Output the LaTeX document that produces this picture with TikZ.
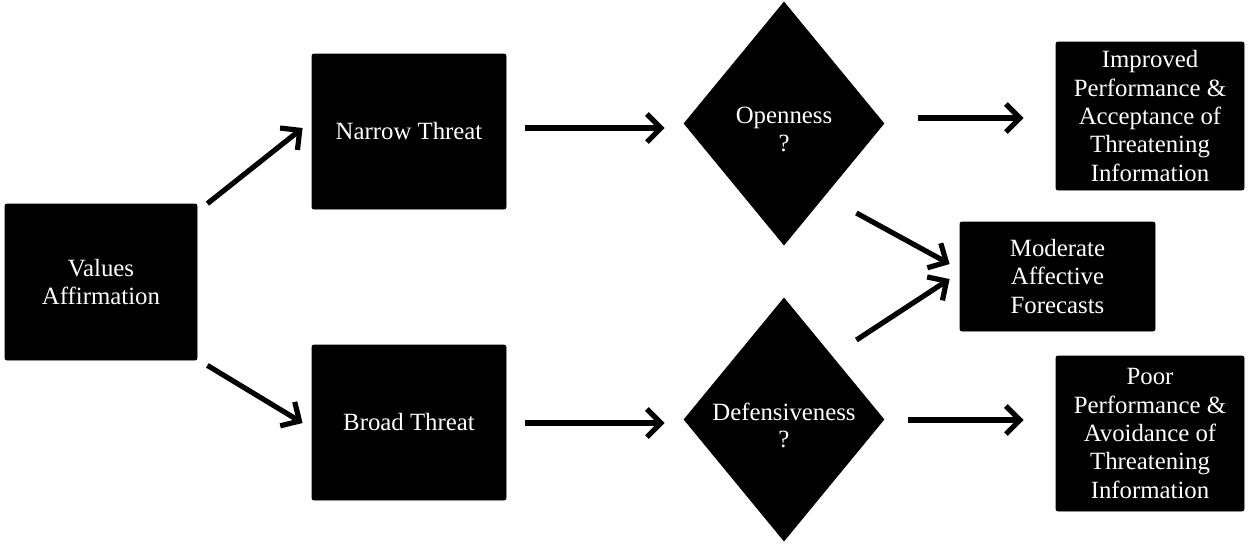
\documentclass[tikz,border=0pt]{standalone}
\usepackage{fontspec}
\setmainfont{Liberation Serif}
\usetikzlibrary{shapes.geometric,arrows.meta,calc}
\begin{document}
\begin{tikzpicture}[x=0.5pt,y=-0.5pt,
  box/.style={draw=black,fill=black,rounded corners=1pt,text=white,align=center,
    inner sep=0pt,font=\fontsize{12.4}{14.2}\selectfont},
  dia/.style={diamond,draw=black,fill=black,inner sep=0pt,
    minimum width=100pt,minimum height=121.5pt},
  dlab/.style={text=white,align=center,font=\fontsize{12.4}{13.6}\selectfont},
  arr/.style={line width=2.6pt,-{Straight Barb[length=7pt,width=14pt,line width=2.6pt]}}]
\useasboundingbox (0,0) rectangle (1250,543);
\node[box,minimum width=96pt,minimum height=78pt] (va) at (101,282) {Values\\Affirmation};
\node[box,minimum width=97pt,minimum height=77.5pt] (nt) at (409,131.5) {Narrow Threat};
\node[box,minimum width=97pt,minimum height=77.5pt] (bt) at (409,422.5) {Broad Threat};
\node[dia,label={[dlab,yshift=-3pt]center:Openness\\?}] (op) at (784,123.5) {};
\node[dia,label={[dlab,yshift=-3pt]center:Defensiveness\\?}] (df) at (784,419.5) {};
\node[box,minimum width=94pt,minimum height=74pt] (im) at (1150,116) {Improved\\Performance \&\\Acceptance of\\Threatening\\Information};
\node[box,minimum width=97.5pt,minimum height=54.5pt] (mo) at (1057.5,276.5) {Moderate\\Affective\\Forecasts};
\node[box,minimum width=94pt,minimum height=77.5pt] (po) at (1150,433.5) {Poor\\Performance \&\\Avoidance of\\Threatening\\Information};
\draw[arr] ($(va.north east)+(10,0)$) -- ($(nt.west)+(-9,-3.5)$);
\draw[arr] ($(va.south east)+(10,5)$) -- ($(bt.west)+(-9,0.5)$);
\draw[arr] ($(nt.east)+(19,-3.5)$) -- ($(op.west)+(-19,4.5)$);
\draw[arr] ($(bt.east)+(19,0.5)$) -- ($(df.west)+(-19,3.5)$);
\draw[arr] ($(op.east)+(34,-5.5)$) -- ($(im.west)+(-32,2)$);
\draw[arr] ($(df.east)+(24,0.5)$) -- ($(po.west)+(-32,-13.5)$);
\draw[arr] ($(op.east)+(-28,89.5)$) -- ($(mo.west)+(-10,-12.5)$);
\draw[arr] ($(df.east)+(-28,-79.5)$) -- ($(mo.west)+(-10,2.5)$);
\end{tikzpicture}
\end{document}
